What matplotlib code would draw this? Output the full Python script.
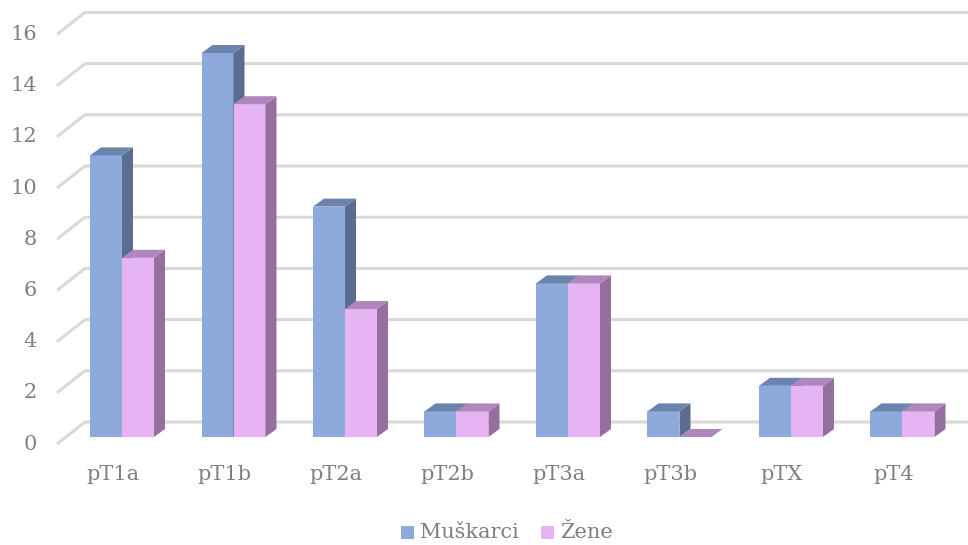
import matplotlib
matplotlib.use("Agg")
import matplotlib.pyplot as plt
from matplotlib.patches import Polygon, Rectangle

categories = ["pT1a", "pT1b", "pT2a", "pT2b", "pT3a", "pT3b", "pTX", "pT4"]
muskarci = [11, 15, 9, 1, 6, 1, 2, 1]
zene = [7, 13, 5, 1, 6, 0, 2, 1]
series_names = ["Muškarci", "Žene"]
y_ticks = [0, 2, 4, 6, 8, 10, 12, 14, 16]

# face colours: front, top, side
blue = ("#8EAADC", "#6C83AE", "#5C6C91")
pink = ("#E6B4F3", "#B087BC", "#95709E")
grid_col = "#D9D9D9"
text_col = "#7F7F7F"
font = ["DejaVu Serif"]

W, H = 968, 545
fig = plt.figure(figsize=(W / 100, H / 100), dpi=100)
ax = fig.add_axes([0, 0, 1, 1])
ax.axis("off")

# data space: one unit per category along x, value units along y
px_per_cat = 111.5
px_per_val = 25.6
x0_px, y0_px = 122.0, 437.0
ax.set_xlim(-x0_px / px_per_cat, (W - x0_px) / px_per_cat)
ax.set_ylim(-(H - y0_px) / px_per_val, y0_px / px_per_val)

def dx(p):
    return p / px_per_cat

def dy(p):
    return p / px_per_val

bar_w = dx(32)
depth_x, depth_y = dx(11), dy(8)

# walls: front edge of floor and back wall plane relative to bar fronts
front_x, front_y = dx(-9), dy(-7)
back_x, back_y = dx(19), dy(15)
wall_left = dx(57 - x0_px) - front_x  # side wall front edge, in bar-front frame
xmax = (W - x0_px) / px_per_cat

for v in y_ticks:
    xa = wall_left + front_x
    ya = v + front_y
    xb = wall_left + front_x + (back_x - front_x)
    yb = v + back_y
    ax.plot([xa, xb, xmax], [ya, yb, yb], color=grid_col, lw=2.2,
            solid_capstyle="butt", zorder=1)
    ax.text(xa - dx(20), ya, str(v), ha="right", va="center",
            fontsize=15, color=text_col, family=font)

def draw_bar(xl, h, cols, z):
    front, top, side = cols
    xr = xl + bar_w
    if h > 0:
        ax.add_patch(Rectangle((xl, 0), bar_w, h, facecolor=front,
                               edgecolor="none", zorder=z))
        ax.add_patch(Polygon([(xr, 0), (xr + depth_x, depth_y),
                              (xr + depth_x, h + depth_y), (xr, h)],
                             closed=True, facecolor=side, edgecolor="none", zorder=z))
    ax.add_patch(Polygon([(xl, h), (xr, h), (xr + depth_x, h + depth_y),
                          (xl + depth_x, h + depth_y)],
                         closed=True, facecolor=top, edgecolor="none", zorder=z))

for i, cat in enumerate(categories):
    draw_bar(i - bar_w, muskarci[i], blue, 10 + 2 * i)
    draw_bar(i, zene[i], pink, 11 + 2 * i)
    ax.text(i + front_x, dy(-38), cat, ha="center", va="center",
            fontsize=15, color=text_col, family=font)

# legend
ly = -(532 - y0_px) / px_per_val
sq = 13
for name, cols, sx in zip(series_names, [blue, pink], [401, 541]):
    ax.add_patch(Rectangle((dx(sx - x0_px), ly - dy(sq / 2)), dx(sq), dy(sq),
                           facecolor=cols[0], edgecolor="none", zorder=30))
    ax.text(dx(sx - x0_px + sq + 6), ly, name, ha="left", va="center",
            fontsize=15, color=text_col, family=font)

fig.savefig("out.png", dpi=100)
